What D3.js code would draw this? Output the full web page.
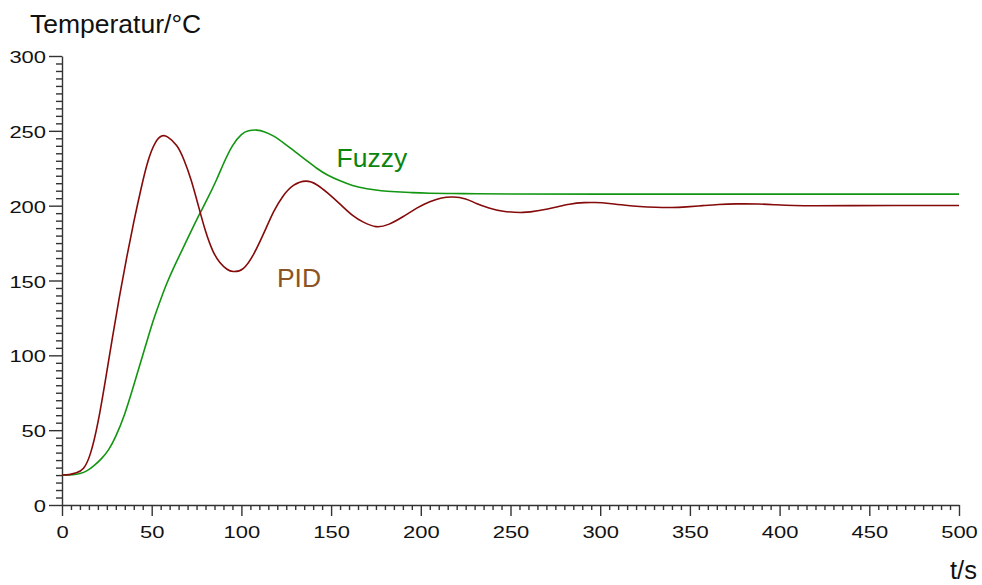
<!DOCTYPE html>
<html>
<head>
<meta charset="utf-8">
<script src="https://cdn.jsdelivr.net/npm/d3@7/dist/d3.min.js"></script>
<style>
  html, body { margin: 0; padding: 0; background: #fff; }
  svg { display: block; font-family: "Liberation Sans", Arial, Helvetica, sans-serif; }
</style>
</head>
<body>
<svg id="chart" width="982" height="585"></svg>
<script>
// Step response: temperature over time, PID vs. fuzzy controller
const pidTime  = [0, 4, 8, 12, 16, 20, 24, 28, 32, 36, 40, 44, 48, 52, 55.5, 59, 64, 68, 72, 76, 80, 84, 88, 92, 95.5, 101, 107, 113, 118, 123, 129, 136, 142, 148, 155, 162, 168, 175, 182, 190, 198, 205, 211, 218, 225, 231, 238, 246, 257, 266, 275, 283, 291, 297, 305, 314, 322, 331, 340, 348, 357, 366, 376, 388, 398, 408, 420, 440, 470, 500];
const pidTemp  = [20, 20.3, 21.5, 24.5, 35, 55, 82, 111, 139, 165, 189, 211, 230, 242, 246.5, 245.8, 240, 230.5, 217, 200, 183, 170, 162, 157.5, 156, 158, 168, 183, 196, 206, 213.5, 216.4, 214, 208.5, 201, 193.5, 189, 186, 187.5, 192.6, 198.5, 202.6, 205, 205.8, 204.5, 201.5, 198.5, 196.3, 195.5, 196.8, 199, 201, 202, 202.1, 201.5, 200.3, 199.4, 198.9, 198.8, 199.2, 200, 200.8, 201.2, 201.1, 200.6, 200.1, 199.9, 200, 200.1, 200.1];

const fuzzyTime = [0, 6, 10, 14, 18, 22, 26, 30, 35, 40, 45, 50, 54, 58.4, 63, 67.6, 72, 76.5, 81, 86, 90, 95, 100, 104, 108.5, 113, 118, 124, 130, 136, 142, 148, 155, 162, 170, 178, 186, 195, 205, 218, 231, 250, 300, 400, 500];
const fuzzyTemp = [20, 20.2, 21, 23, 26.5, 31, 37, 46, 61, 80, 100, 120, 134, 148, 160.5, 172, 183, 194, 204.5, 217, 228, 240, 247.5, 250, 250.5, 249.3, 246.5, 241.5, 236, 230.5, 225, 220.5, 216.6, 213.5, 211.3, 210, 209.3, 208.7, 208.3, 208.1, 208, 207.8, 207.7, 207.7, 207.7];

const xMajorTicks = [0, 50, 100, 150, 200, 250, 300, 350, 400, 450, 500];
const yMajorTicks = [0, 50, 100, 150, 200, 250, 300];
const minorStep = 5;

const seriesNames = ["PID", "Fuzzy"];
const axisTitleY = "Temperatur/°C";
const axisTitleX = "t/s";

const svg = d3.select("#chart");

const x = d3.scaleLinear().domain([0, 500]).range([62, 959]);
const y = d3.scaleLinear().domain([0, 300]).range([505, 56]);

const axisColor = "#333";
const digitStretch = 1.33;

// minor ticks every 5 units
const xMinor = d3.range(0, 500 + 0.001, minorStep).filter(v => !xMajorTicks.includes(v));
const yMinor = d3.range(0, 300 + 0.001, minorStep).filter(v => !yMajorTicks.includes(v));

function styleAxis(g) {
  g.selectAll("path.domain").attr("stroke", axisColor).attr("stroke-width", 1.4);
  g.selectAll(".tick line").attr("stroke", axisColor).attr("stroke-width", 1.4);
}

// x axis
const gxMinor = svg.append("g").attr("transform", `translate(0,${y(0)})`)
  .call(d3.axisBottom(x).tickValues(xMinor).tickSize(5).tickSizeOuter(0).tickFormat(""));
gxMinor.select("path.domain").remove();
styleAxis(gxMinor);

const gx = svg.append("g").attr("transform", `translate(0,${y(0)})`)
  .call(d3.axisBottom(x).tickValues(xMajorTicks).tickSize(11).tickSizeOuter(0).tickPadding(10).tickFormat(d3.format("d")));
styleAxis(gx);

// y axis
const gyMinor = svg.append("g").attr("transform", `translate(${x(0)},0)`)
  .call(d3.axisLeft(y).tickValues(yMinor).tickSize(6).tickSizeOuter(0).tickFormat(""));
gyMinor.select("path.domain").remove();
styleAxis(gyMinor);

const gy = svg.append("g").attr("transform", `translate(${x(0)},0)`)
  .call(d3.axisLeft(y).tickValues(yMajorTicks).tickSize(13).tickSizeOuter(0).tickPadding(3).tickFormat(d3.format("d")));
styleAxis(gy);
gy.selectAll(".tick text").attr("dy", "0.4em");

// tick labels: wide digits
svg.selectAll(".tick text")
  .attr("font-size", 16.5)
  .attr("font-family", "Liberation Sans, Arial, sans-serif")
  .attr("fill", "#111")
  .each(function () {
    const w = this.getComputedTextLength();
    d3.select(this).attr("textLength", w * digitStretch).attr("lengthAdjust", "spacingAndGlyphs");
  });

// curves: natural cubic spline through the sampled points
const line = d3.line()
  .x(d => x(d[0]))
  .y(d => y(d[1]))
  .curve(d3.curveNatural);

const pidData = pidTime.map((t, i) => [t, pidTemp[i]]);
const fuzzyData = fuzzyTime.map((t, i) => [t, fuzzyTemp[i]]);

svg.append("path")
  .datum(fuzzyData)
  .attr("d", line)
  .attr("fill", "none")
  .attr("stroke", "#129612")
  .attr("stroke-width", 1.6);

svg.append("path")
  .datum(pidData)
  .attr("d", line)
  .attr("fill", "none")
  .attr("stroke", "#850a0a")
  .attr("stroke-width", 1.6);

// curve labels
svg.append("text")
  .attr("x", x(153)).attr("y", y(226))
  .attr("font-size", 26.5)
  .attr("fill", "#0b850b")
  .text(seriesNames[1]);

svg.append("text")
  .attr("x", x(119.8)).attr("y", y(145.8))
  .attr("font-size", 26.5)
  .attr("fill", "#8c5423")
  .text(seriesNames[0]);

// axis titles
svg.append("text")
  .attr("x", 30).attr("y", 33)
  .attr("font-size", 26.5)
  .attr("fill", "#111")
  .text(axisTitleY);

svg.append("text")
  .attr("x", 950).attr("y", 579)
  .attr("font-size", 25.5)
  .attr("fill", "#111")
  .text(axisTitleX);
</script>
</body>
</html>
